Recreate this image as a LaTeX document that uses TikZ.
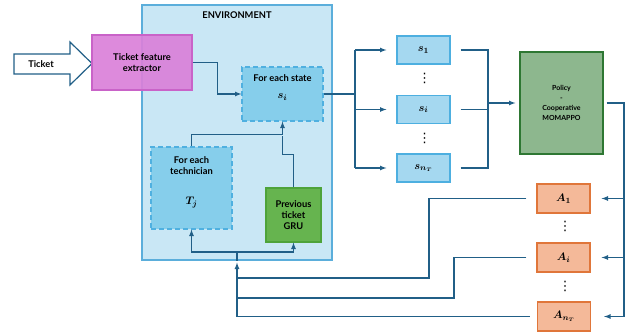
\documentclass[tikz,border=0pt]{standalone}
\usepackage{amsmath}
\usepackage{amssymb}
\usepackage{fontspec}
\setmainfont{Lato}
\newfontfamily\dotfont{DejaVu Sans}
\usetikzlibrary{arrows,calc,backgrounds}

\definecolor{linkblue}{HTML}{215F87}
\definecolor{envfill}{HTML}{C9E7F5}
\definecolor{envline}{HTML}{5BAEDB}
\definecolor{loopfill}{HTML}{86CEEB}
\definecolor{loopline}{HTML}{4FB0E0}
\definecolor{sfill}{HTML}{A5D8F0}
\definecolor{sline}{HTML}{4DAFE0}
\definecolor{extfill}{HTML}{DA80D9}
\definecolor{extline}{HTML}{C963C8}
\definecolor{grufill}{HTML}{66B44F}
\definecolor{gruline}{HTML}{4EA33A}
\definecolor{polfill}{HTML}{8DB78E}
\definecolor{polline}{HTML}{2E7733}
\definecolor{afill}{HTML}{F4B999}
\definecolor{aline}{HTML}{E0763A}

\begin{document}
\begin{tikzpicture}[x=1pt, y=-1pt, >=latex,
    font=\bfseries\fontsize{9.3}{11}\selectfont,
    link/.style={draw=linkblue, line width=1.2pt},
    envbox/.style={draw=envline, fill=envfill, line width=1.2pt},
    loopbox/.style={draw=loopline, fill=loopfill, dashed, dash pattern=on 5pt off 3pt, line width=1.2pt},
    sbox/.style={draw=sline, fill=sfill, line width=1.2pt, minimum width=53pt, minimum height=28pt,
                 font=\fontsize{11}{13}\selectfont},
    abox/.style={draw=aline, fill=afill, line width=1.2pt, minimum width=53pt, minimum height=29pt,
                 font=\fontsize{11}{13}\selectfont},
    vdot/.style={inner sep=0pt, font=\dotfont\fontsize{13}{13}\selectfont}]
    \useasboundingbox (0,0) rectangle (641,333);

    % the environment
    \node[envbox, minimum width=190pt, minimum height=255pt] (env) at (237,132.5) {};
    \node (envtxt) at (237,15) {ENVIRONMENT};

    % ticket input and the feature extractor
    \draw[draw=linkblue, fill=white, line width=1.2pt]
        (14,54) -- (70,54) -- (70,42) -- (92,63.5) -- (70,85) -- (70,74) -- (14,74) -- cycle;
    \node (ticket) at (41,64) {Ticket};
    \node[draw=extline, fill=extfill, fill opacity=0.92, text opacity=1, line width=1.2pt,
          minimum width=100pt, minimum height=55pt, align=center] (extract) at (142,62.5)
          {Ticket feature\\extractor};

    % the boxes inside the environment
    \node[loopbox, minimum width=81pt, minimum height=54pt] (state) at (282.5,94) {};
    \node[anchor=north, align=center] (statetxt) at ($(state.north)+(0,5)$)
          {For each state\\[6pt]{\fontsize{11}{13}\selectfont$\boldsymbol{s_i}$}};
    \node[loopbox, minimum width=81pt, minimum height=82pt] (tech) at (191.5,188) {};
    \node[anchor=north, align=center] (techtxt) at ($(tech.north)+(0,7)$)
          {For each\\technician\\[19pt]{\fontsize{11}{13}\selectfont$\boldsymbol{T_j}$}};
    \node[draw=gruline, fill=grufill, line width=1.2pt, minimum width=55pt, minimum height=54pt,
          align=center] (gru) at (293.5,215) {Previous\\ticket\\GRU};

    % the states
    \node[sbox] (s1) at (423.5,50) {$\boldsymbol{s_1}$};
    \node[sbox] (si) at (423.5,109.5) {$\boldsymbol{s_i}$};
    \node[sbox] (sn) at (423.5,168) {$\boldsymbol{s_{n_T}}$};
    \node[vdot] (sd1) at (424.5,78) {⋮};
    \node[vdot] (sd2) at (424.5,138) {⋮};

    % the policy
    \node[draw=polline, fill=polfill, line width=1.2pt, minimum width=83pt, minimum height=102pt,
          align=center, font=\bfseries\fontsize{7}{10}\selectfont] (policy) at (561.5,103)
          {Policy\\-\\Cooperative\\MOMAPPO};

    % the actions
    \node[abox] (a1) at (563.5,198.5) {$\boldsymbol{A_1}$};
    \node[abox] (ai) at (563.5,257.5) {$\boldsymbol{A_i}$};
    \node[abox] (an) at (564,316.5) {$\boldsymbol{A_{n_T}}$};
    \node[vdot] (ad1) at (565,226) {⋮};
    \node[vdot] (ad2) at (565,286) {⋮};

    % helper points for the forks
    \coordinate (fanL) at (355,94);
    \coordinate (fanR) at (488,103);
    \coordinate (fanA) at (624,103);
    \coordinate (fb) at (237,316.5);
    \coordinate (split) at (237,252);

    % arrows inside the environment
    \draw[link,->] (extract.east) -- ++(25,0) |- (state.west);
    \draw[link,->] (tech.north) -- ++(0,-12) -| (state.south);
    \draw[link] (gru.north) -- ++(0,-33) -| ($(state.south)+(0,14)$);
    \draw[link,->] (split) -| (tech.south);
    \draw[link,->] (split) -| (gru.south);

    % fork to the states
    \draw[link] (state.east) -- (fanL);
    \draw[link] (fanL |- s1.west) -- (fanL |- sn.west);
    \draw[link,->,shorten >=10pt] (fanL |- s1.west) -- (s1.west);
    \draw[link,->,shorten >=10pt] (fanL |- si.west) -- (si.west);
    \draw[link,->,shorten >=10pt] (fanL |- sn.west) -- (sn.west);

    % states to the policy
    \draw[link,shorten <=10pt] (s1.east) -| (fanR);
    \draw[link,shorten <=10pt] (si.east) -- (fanR |- si.east);
    \draw[link,shorten <=10pt] (sn.east) -| (fanR);
    \draw[link,->,shorten >=4pt] (fanR) -- (policy.west);

    % policy to the actions
    \draw[link,shorten <=3pt] (policy.east) -- (fanA) -- (fanA |- an.east);
    \draw[link,->,shorten >=11pt] (fanA |- a1.east) -- (a1.east);
    \draw[link,->,shorten >=11pt] (fanA |- ai.east) -- (ai.east);
    \draw[link,->,shorten >=13pt] (fanA |- an.east) -- (an.east);

    % actions back to the environment
    \draw[link,shorten <=10pt] (a1.west) -- (429,198.5) -- (429,278) -- (237,278);
    \draw[link,shorten <=10pt] (ai.west) -- (454,257.5) -- (454,298) -- (237,298);
    \draw[link,shorten <=7pt] (an.west) -- (fb);
    \draw[link,->] (fb) -- ($(env.south)+(0,2)$);
    \draw[link] (env.south) -- (split);
\end{tikzpicture}
\end{document}
